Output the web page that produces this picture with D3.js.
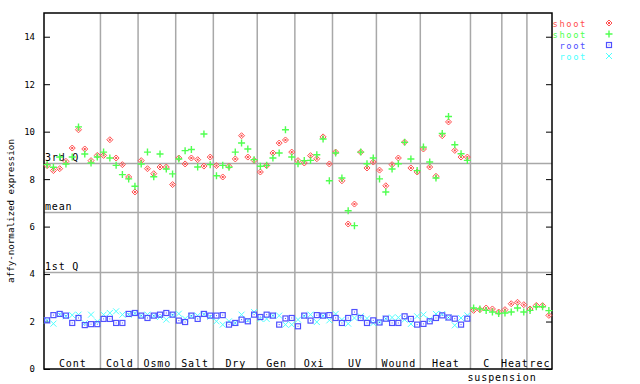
<!DOCTYPE html>
<html>
<head>
<meta charset="utf-8">
<script src="https://cdn.jsdelivr.net/npm/d3@7"></script>
<style>
  body { margin: 0; background: #fff; }
  svg { display: block; }
  text { font-family: "DejaVu Sans Mono", monospace; }
</style>
</head>
<body>
<script>
// sample groups, left to right
const groups = ['Cont', 'Cold', 'Osmo', 'Salt', 'Dry', 'Gen', 'Oxi', 'UV', 'Wound', 'Heat', 'C', 'Heat', 'rec']
const groupSizes = [9, 6, 6, 6, 7, 6, 6, 7, 7, 8, 5, 4, 4]

const shoot1 = [8.57, 8.36, 8.44, 8.75, 9.31, 10.08, 9.27, 8.78, 9.00,
  9.00, 9.66, 8.89, 8.61, 8.09, 7.46,
  8.78, 8.44, 8.23, 8.51, 8.51, 7.77,
  8.89, 8.64, 8.89, 8.82, 8.55, 8.93,
  8.57, 8.09, 8.54, 8.85, 9.83, 8.93, 8.79,
  8.30, 8.57, 9.10, 9.52, 9.65, 9.14,
  8.78, 8.68, 8.99, 8.86, 9.78, 8.64,
  9.14, 7.93, 6.11, 6.95, 9.14, 8.47, 8.72,
  8.38, 7.72, 8.61, 8.89, 9.56, 8.47, 8.30,
  9.27, 8.51, 8.12, 9.83, 10.41, 9.21, 8.93, 8.93,
  2.47, 2.50, 2.57, 2.53, 2.40,
  2.50, 2.75, 2.81, 2.71,
  2.53, 2.68, 2.67, 2.26]

const shoot2 = [8.61, 8.50, 8.93, 8.64, 8.93, 10.20, 9.06, 8.68, 8.93,
  9.14, 8.89, 8.58, 8.19, 8.01, 7.70,
  8.64, 9.14, 8.10, 9.06, 8.43, 8.22,
  8.85, 9.20, 9.25, 8.51, 9.90, 8.61,
  8.14, 8.58, 8.50, 9.14, 9.52, 9.27, 8.82,
  8.54, 8.58, 8.89, 9.10, 10.08, 8.93,
  8.65, 8.78, 8.79, 9.03, 9.69, 7.93,
  9.10, 8.05, 6.67, 6.04, 9.14, 8.65, 8.89,
  8.01, 7.46, 8.43, 8.65, 9.55, 8.85, 8.36,
  9.35, 8.72, 8.05, 9.92, 10.64, 9.45, 9.07, 8.79,
  2.57, 2.53, 2.47, 2.40, 2.34,
  2.36, 2.40, 2.57, 2.40,
  2.47, 2.62, 2.62, 2.46]

const root1 = [2.05, 2.27, 2.32, 2.25, 1.94, 2.15, 1.85, 1.89, 1.89,
  2.11, 2.11, 1.94, 1.94, 2.32, 2.36,
  2.25, 2.15, 2.25, 2.29, 2.36, 2.29,
  2.04, 1.98, 2.25, 2.11, 2.32, 2.25,
  2.25, 2.27, 1.87, 1.94, 2.08, 2.01, 2.29,
  2.19, 2.29, 2.25, 1.87, 2.13, 2.15,
  1.80, 2.25, 2.04, 2.27, 2.25, 2.27,
  2.15, 1.94, 2.15, 2.40, 2.15, 1.94, 2.05,
  1.96, 2.12, 1.94, 1.94, 2.22, 2.11, 1.87,
  1.90, 2.01, 2.15, 2.26, 2.17, 2.12, 1.87, 2.12]

const root2 = [2.05, 1.91, 2.29, 2.22, 2.27, 2.29, 1.93, 2.29, 2.00,
  2.29, 2.36, 2.43, 2.29, 2.29, 2.34,
  2.25, 2.29, 2.24, 2.19, 2.08, 2.27,
  2.33, 2.12, 2.23, 2.25, 2.30, 2.20,
  2.01, 1.87, 2.01, 1.94, 2.29, 2.05, 2.40,
  2.11, 2.11, 2.25, 2.25, 1.87, 1.87,
  2.08, 2.23, 2.29, 1.98, 2.24, 2.05,
  2.32, 2.08, 1.91, 2.15, 2.22, 2.13, 1.93,
  1.98, 2.12, 2.17, 2.17, 2.08, 1.90, 2.22,
  2.29, 2.08, 2.32, 2.32, 2.17, 1.84, 2.15, 2.26]

const yTicks = [0, 2, 4, 6, 8, 10, 12, 14]
const refNames = ['3rd Q', 'mean', '1st Q']
const refValues = [8.68, 6.63, 4.07]
const legendNames = ['shoot', 'shoot', 'root', 'root']

const W = 640, H = 384
const mLeft = 44, mRight = 552, mTop = 13, mBottom = 369
const colors = ['#ff5050', '#50ff50', '#5050ff', '#50ffff']
const grey = '#a8a8a8'

const svg = d3.select('body').append('svg').attr('width', W).attr('height', H)

const x = d3.scalePoint().domain(d3.range(shoot1.length)).range([mLeft, mRight]).padding(0.5)
const step = x.step()
const y = d3.scaleLinear().domain([0, 15]).range([mBottom, mTop])

// group separators
const starts = []
groupSizes.reduce((acc, n) => { starts.push(acc); return acc + n }, 0)
svg.selectAll('line.sep')
  .data(starts.slice(1))
  .enter().append('line')
  .attr('x1', d => x(d) - step / 2).attr('x2', d => x(d) - step / 2)
  .attr('y1', mTop).attr('y2', mBottom)
  .attr('stroke', grey).attr('stroke-width', 1.5)

// quartile / mean lines
svg.selectAll('line.ref')
  .data(refValues)
  .enter().append('line')
  .attr('x1', mLeft).attr('x2', mRight)
  .attr('y1', d => Math.round(y(d)) + 0.5).attr('y2', d => Math.round(y(d)) + 0.5)
  .attr('stroke', grey).attr('stroke-width', 1.5)
svg.selectAll('text.ref')
  .data(refValues)
  .enter().append('text')
  .attr('x', mLeft + 1).attr('y', d => y(d) - 2)
  .attr('font-size', 10).attr('letter-spacing', 0.8).attr('fill', '#000')
  .text((d, i) => refNames[i])

// axes
const yAxis = svg.append('g').attr('transform', `translate(${mLeft},0)`)
  .call(d3.axisLeft(y).tickValues(yTicks).tickSize(-6).tickPadding(9))
yAxis.selectAll('text').attr('font-size', 9).attr('font-family', '"DejaVu Sans Mono", monospace')
svg.append('g').attr('transform', `translate(${mRight},0)`)
  .call(d3.axisRight(y).tickValues(yTicks).tickSize(-6).tickFormat(''))
svg.selectAll('.domain').remove()
svg.selectAll('.tick line').attr('stroke', '#000')

svg.append('rect')
  .attr('x', mLeft).attr('y', mTop).attr('width', mRight - mLeft).attr('height', mBottom - mTop)
  .attr('fill', 'none').attr('stroke', '#000').attr('stroke-width', 1.5)

svg.append('text')
  .attr('transform', `translate(14,${(mTop + mBottom) / 2 + 20}) rotate(-90)`)
  .attr('text-anchor', 'middle').attr('font-size', 9.2)
  .text('affy-normalized expression')

// group labels
svg.selectAll('text.grp')
  .data(groups)
  .enter().append('text')
  .attr('x', (d, i) => (x(starts[i]) + x(starts[i] + groupSizes[i] - 1)) / 2 + 0.5)
  .attr('y', 367)
  .attr('text-anchor', 'middle').attr('font-size', 10).attr('letter-spacing', 0.9)
  .text(d => d)
svg.append('text')
  .attr('x', 502).attr('y', 381)
  .attr('text-anchor', 'middle').attr('font-size', 10).attr('letter-spacing', 0.9)
  .text('suspension')

// markers
const diamond = (g, c) => {
  g.append('path').attr('d', 'M0,-3L3,0L0,3L-3,0Z').attr('fill', 'none').attr('stroke', c).attr('stroke-width', 1)
  g.append('rect').attr('x', -1).attr('y', -1).attr('width', 2).attr('height', 2).attr('fill', c)
}
const plus = (g, c) => {
  g.append('path').attr('d', 'M-3.5,0H3.5M0,-3.5V3.5').attr('stroke', c).attr('stroke-width', 1.4)
}
const square = (g, c) => {
  g.append('rect').attr('x', -2.5).attr('y', -2.5).attr('width', 5).attr('height', 5)
    .attr('fill', 'none').attr('stroke', c).attr('stroke-width', 1.2)
  g.append('rect').attr('x', -0.5).attr('y', -0.5).attr('width', 1).attr('height', 1).attr('fill', c)
}
const cross = (g, c) => {
  g.append('path').attr('d', 'M-3,-3L3,3M-3,3L3,-3').attr('stroke', c).attr('stroke-width', 1)
}
const shapes = [diamond, plus, square, cross]
const series = [shoot1, shoot2, root1, root2]

const drawOrder = [3, 2, 0, 1]
drawOrder.forEach(s => {
  svg.append('g').selectAll('g')
    .data(series[s])
    .enter().append('g')
    .attr('transform', (d, i) => `translate(${x(i)},${y(d)})`)
    .each(function () { shapes[s](d3.select(this), colors[s]) })
})

// legend
const legend = svg.append('g')
legendNames.forEach((name, i) => {
  legend.append('text')
    .attr('x', 587).attr('y', 26.5 + i * 11)
    .attr('text-anchor', 'end').attr('font-size', 8.8).attr('letter-spacing', 1.6)
    .attr('fill', colors[i]).text(name)
  shapes[i](legend.append('g').attr('transform', `translate(609,${23 + i * 11})`), colors[i])
})
</script>
</body>
</html>
